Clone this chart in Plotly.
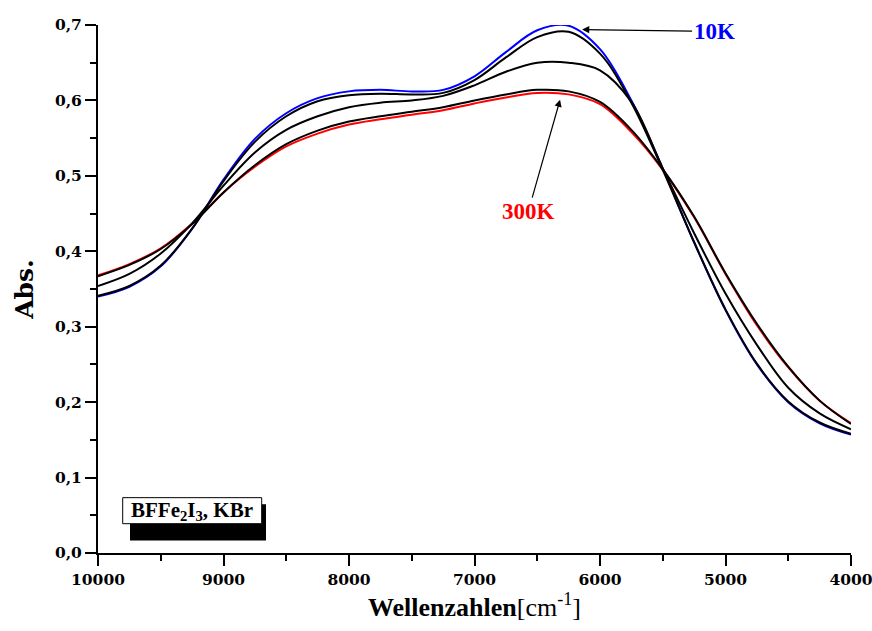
import plotly.graph_objects as go

# Wavenumber grid (cm^-1)
wavenumber = [10000, 9750, 9500, 9250, 9000, 8750, 8500, 8250, 8000, 7750, 7500, 7250,
              7000, 6750, 6500, 6250, 6000, 5750, 5500, 5250, 5000, 4750, 4500, 4250, 4000]

# Absorbance series, 10K (blue) ... 300K (red)
abs_10K = [0.340, 0.353, 0.380, 0.430, 0.495, 0.549, 0.583, 0.603, 0.612, 0.614, 0.612, 0.614,
           0.632, 0.664, 0.693, 0.699, 0.668, 0.600, 0.510, 0.412, 0.322, 0.250, 0.200, 0.172,
           0.157]
abs_T2 = [0.341, 0.354, 0.381, 0.430, 0.493, 0.545, 0.579, 0.599, 0.607, 0.609, 0.608, 0.610,
          0.627, 0.657, 0.684, 0.691, 0.662, 0.597, 0.508, 0.412, 0.323, 0.251, 0.201, 0.173,
          0.158]
abs_T3 = [0.354, 0.370, 0.397, 0.437, 0.487, 0.531, 0.561, 0.579, 0.591, 0.597, 0.600, 0.606,
          0.620, 0.638, 0.650, 0.650, 0.640, 0.598, 0.510, 0.424, 0.344, 0.276, 0.219, 0.185,
          0.164]
abs_T4 = [0.367, 0.382, 0.403, 0.436, 0.478, 0.514, 0.542, 0.560, 0.572, 0.579, 0.585, 0.591,
          0.600, 0.608, 0.614, 0.612, 0.598, 0.561, 0.509, 0.446, 0.371, 0.304, 0.247, 0.202,
          0.171]
abs_300K = [0.368, 0.383, 0.404, 0.437, 0.478, 0.512, 0.539, 0.556, 0.568, 0.575, 0.581, 0.587,
            0.596, 0.604, 0.610, 0.608, 0.595, 0.558, 0.508, 0.445, 0.370, 0.302, 0.246, 0.202,
            0.172]

x_ticks = [10000, 9000, 8000, 7000, 6000, 5000, 4000]
y_ticks = [0.0, 0.1, 0.2, 0.3, 0.4, 0.5, 0.6, 0.7]
y_tick_labels = ["0,0", "0,1", "0,2", "0,3", "0,4", "0,5", "0,6", "0,7"]

series = [
    (abs_300K, "#ff0000", "300K"),
    (abs_10K, "#0000ff", "10K"),
    (abs_T4, "#000000", "T4"),
    (abs_T3, "#000000", "T3"),
    (abs_T2, "#000000", "T2"),
]

fig = go.Figure()
for ys, col, name in series:
    fig.add_trace(go.Scatter(x=wavenumber, y=ys, mode="lines", name=name,
                             line=dict(color=col, width=2, shape="spline", smoothing=1.0),
                             showlegend=False, hoverinfo="skip"))

tickfont = dict(family="DejaVu Serif", size=15.5, color="black", weight="bold")
serif = "Liberation Serif"

fig.update_layout(
    width=872, height=631,
    margin=dict(l=98, r=21, t=25, b=78),
    paper_bgcolor="white", plot_bgcolor="white",
    xaxis=dict(range=[10000, 4000], tickvals=x_ticks, ticktext=[str(v) for v in x_ticks],
               automargin=False, ticklabeloverflow="allow",
               showgrid=False, zeroline=False, showline=True, linecolor="black", linewidth=2,
               ticks="outside", ticklen=11, tickwidth=2, tickcolor="black",
               minor=dict(ticks="outside", ticklen=6, tickwidth=2, tickcolor="black", dtick=500, tick0=4000),
               tickfont=tickfont,
               title=dict(text="<b>Wellenzahlen</b>[cm<sup>-1</sup>]",
                          font=dict(family=serif, size=26, color="black"), standoff=10)),
    yaxis=dict(range=[0, 0.7], tickvals=y_ticks, ticktext=y_tick_labels,
               automargin=False, ticklabeloverflow="allow",
               showgrid=False, zeroline=False, showline=True, linecolor="black", linewidth=2,
               ticks="outside", ticklen=11, tickwidth=2, tickcolor="black",
               minor=dict(ticks="outside", ticklen=6, tickwidth=2, tickcolor="black", dtick=0.05, tick0=0),
               tickfont=tickfont,
               title=dict(text="<b>Abs.</b>",
                          font=dict(family="DejaVu Serif", size=25, color="black"), standoff=14)),
)

# Labels with arrows
fig.add_annotation(x=6143, y=0.694, ax=5091, ay=0.6915, axref="x", ayref="y", xref="x", yref="y",
                   text="<b>10K</b>", showarrow=True, arrowhead=2, arrowsize=1.2, arrowwidth=1.2,
                   arrowcolor="black", font=dict(family=serif, size=23, color="#0000ff"))
fig.add_annotation(x=6318, y=0.601, ax=6572, ay=0.4525, axref="x", ayref="y", xref="x", yref="y",
                   text="<b>300K</b>", showarrow=True, arrowhead=2, arrowsize=1.2, arrowwidth=1.2,
                   arrowcolor="black", font=dict(family=serif, size=23, color="#ff0000"))

# Sample label box with shadow
fig.add_shape(type="rect", xref="paper", yref="paper", x0=0.0425, x1=0.2231, y0=0.0239, y1=0.0921,
              fillcolor="black", line=dict(width=0))
fig.add_shape(type="rect", xref="paper", yref="paper", x0=0.0328, x1=0.2174, y0=0.0555, y1=0.1048,
              fillcolor="white", line=dict(color="black", width=1))
fig.add_annotation(x=0.1251, y=0.0801, xref="paper", yref="paper", xanchor="center", yanchor="middle",
                   text="<b>BFFe<sub>2</sub>I<sub>3</sub>, KBr</b>", showarrow=False,
                   font=dict(family=serif, size=21, color="black"))

fig.write_html("out.html", config={"displayModeBar": False},
               post_script="document.body.style.margin='0px';document.body.style.padding='0px';")
